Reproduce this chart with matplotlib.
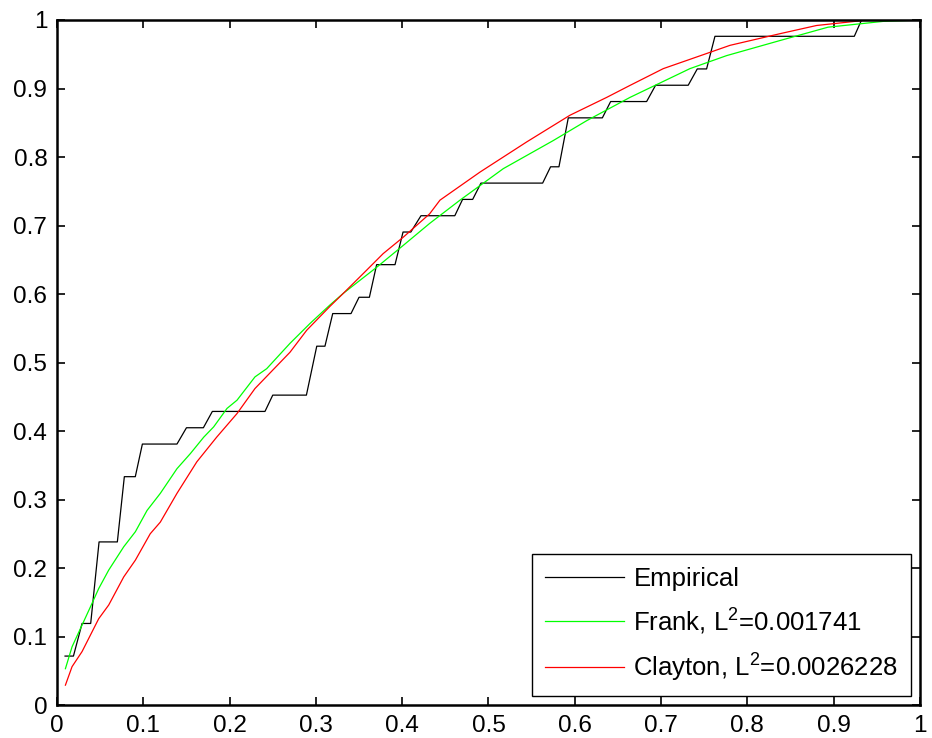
import numpy as np
import matplotlib
matplotlib.use('Agg')
import matplotlib.pyplot as plt

plt.rcParams['font.family'] = ['Liberation Sans', 'DejaVu Sans']
plt.rcParams['mathtext.fontset'] = 'custom'
plt.rcParams['mathtext.rm'] = 'Liberation Sans'

# empirical curve (vertices)
emp_x = [0.0093, 0.019, 0.029, 0.039, 0.0487, 0.0699, 0.078, 0.0907, 0.0989, 0.139,
         0.150, 0.1696, 0.180, 0.241, 0.250, 0.289, 0.301, 0.3105, 0.3195, 0.3407,
         0.350, 0.362, 0.3704, 0.3917, 0.401, 0.410, 0.4218, 0.461, 0.470, 0.4817,
         0.4913, 0.5628, 0.572, 0.5817, 0.5925, 0.632, 0.6416, 0.6833, 0.6937, 0.7315,
         0.742, 0.7528, 0.7625, 0.924, 0.9324, 1.0]
emp_k = [3, 3, 5, 5, 10, 10, 14, 14, 16, 16,
         17, 17, 18, 18, 19, 19, 22, 22, 24, 24,
         25, 25, 27, 27, 29, 29, 30, 30, 31, 31,
         32, 32, 33, 33, 36, 36, 37, 37, 38, 38,
         39, 39, 41, 41, 42, 42]
emp_y = [k / 42 for k in emp_k]

frank_x = [0.0097, 0.0174, 0.0386, 0.0483, 0.0599, 0.0773, 0.0908, 0.1043, 0.1197, 0.139,
           0.1545, 0.170, 0.1815, 0.197, 0.2086, 0.2294, 0.243, 0.270, 0.2932, 0.3163,
           0.3318, 0.3704, 0.4013, 0.4318, 0.467, 0.5172, 0.5751, 0.6138, 0.664, 0.7335,
           0.776, 0.8378, 0.8935, 0.9575, 1.0]
frank_y = [0.053, 0.085, 0.143, 0.170, 0.197, 0.231, 0.253, 0.284, 0.309, 0.345,
           0.367, 0.391, 0.406, 0.433, 0.445, 0.479, 0.491, 0.528, 0.557, 0.584,
           0.601, 0.639, 0.671, 0.703, 0.737, 0.783, 0.824, 0.853, 0.887, 0.929,
           0.948, 0.970, 0.9895, 0.998, 1.0]

clayton_x = [0.0097, 0.0174, 0.029, 0.0483, 0.0599, 0.0773, 0.0908, 0.108, 0.1197, 0.139,
             0.162, 0.185, 0.2086, 0.2294, 0.270, 0.2893, 0.3163, 0.3318, 0.355, 0.378,
             0.4013, 0.4318, 0.4438, 0.4902, 0.5443, 0.5945, 0.637, 0.664, 0.7026, 0.7413,
             0.7799, 0.8378, 0.8803, 0.9344, 1.0]
clayton_y = [0.029, 0.056, 0.078, 0.126, 0.146, 0.187, 0.2115, 0.250, 0.267, 0.309,
             0.355, 0.391, 0.4255, 0.462, 0.515, 0.547, 0.582, 0.601, 0.630, 0.659,
             0.683, 0.717, 0.737, 0.778, 0.822, 0.861, 0.887, 0.9045, 0.929, 0.946,
             0.963, 0.980, 0.992, 0.9993, 1.0]

fig = plt.figure(figsize=(9.32, 7.38), dpi=100)
ax = fig.add_axes([0.0612, 0.0447, 0.9258, 0.9282])

ax.plot(emp_x, emp_y, color='black', linewidth=0.9, label='Empirical')
ax.plot(frank_x, frank_y, color='#00ff00', linewidth=0.9,
        label='Frank, L$^{\\mathregular{2}}$=0.001741')
ax.plot(clayton_x, clayton_y, color='#ff0000', linewidth=0.9,
        label='Clayton, L$^{\\mathregular{2}}$=0.0026228')

ax.set_xlim(0, 1)
ax.set_ylim(0, 1)
ticks = np.round(np.arange(0, 1.01, 0.1), 1)
labels = ['0'] + ['%.1f' % t for t in ticks[1:-1]] + ['1']
ax.set_xticks(ticks)
ax.set_xticklabels(labels)
ax.set_yticks(ticks)
ax.set_yticklabels(labels)
ax.tick_params(direction='in', top=True, right=True, length=6, width=1.2,
               labelsize=17.5, pad=7)
for s in ax.spines.values():
    s.set_linewidth(1.8)

leg = ax.legend(loc='lower right', fontsize=18.5, frameon=True, fancybox=False,
                borderaxespad=0.35, handlelength=3.1, handletextpad=0.35,
                labelspacing=0.55, borderpad=0.5)
leg.get_frame().set_edgecolor('black')
leg.get_frame().set_linewidth(1.0)
leg.get_frame().set_alpha(1)

fig.savefig('out.png', dpi=100)
